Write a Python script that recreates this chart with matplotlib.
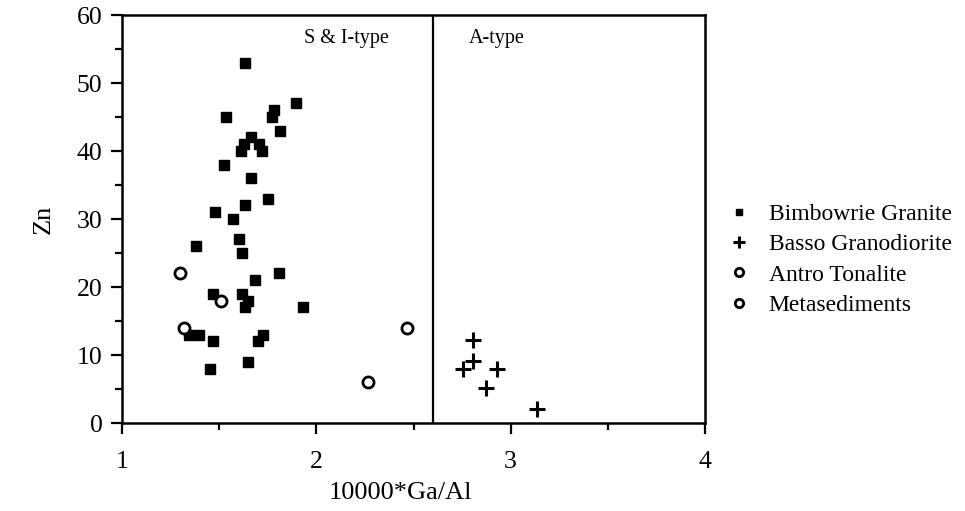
import matplotlib
matplotlib.use("Agg")
import matplotlib.pyplot as plt
from matplotlib.ticker import MultipleLocator

plt.rcParams['font.family'] = ['Liberation Serif', 'DejaVu Serif']

# Bimbowrie Granite (filled squares)
bim_x = [1.635, 1.897, 1.537, 1.784, 1.771, 1.815, 1.663, 1.626, 1.703, 1.612, 1.72,
         1.527, 1.665, 1.751, 1.631, 1.477, 1.571, 1.382, 1.604, 1.617, 1.81, 1.683,
         1.468, 1.619, 1.647, 1.631, 1.931, 1.343, 1.398, 1.468, 1.70, 1.726, 1.647, 1.454]
bim_y = [53, 47, 45, 46, 45, 43, 42, 41, 41, 40, 40,
         38, 36, 33, 32, 31, 30, 26, 27, 25, 22, 21,
         19, 19, 18, 17, 17, 13, 13, 12, 12, 13, 9, 8]

# Basso Granodiorite (plus)
bas_x = [2.804, 2.804, 2.753, 2.93, 2.873, 3.136]
bas_y = [12.2, 9.1, 7.9, 8.0, 5.2, 2.0]

# Antro Tonalite (open circles)
ant_x = [1.30, 1.509, 1.317]
ant_y = [22, 18, 14]

# Metasediments (open circles)
met_x = [2.467, 2.264]
met_y = [14, 6]

boundary_x = 2.6

fig = plt.figure(figsize=(9.65, 5.11), dpi=100)
ax = fig.add_axes([0.1264, 0.1722, 0.6042, 0.7984])

ax.plot(bim_x, bim_y, ls='none', marker='s', ms=6.5, color='black',
        label='Bimbowrie Granite')
ax.plot(bas_x, bas_y, ls='none', marker='+', ms=11, mew=2.2, color='black',
        label='Basso Granodiorite')
ax.plot(ant_x, ant_y, ls='none', marker='o', ms=8, mew=2.0, mfc='white', mec='black',
        label='Antro Tonalite')
ax.plot(met_x, met_y, ls='none', marker='o', ms=8, mew=2.0, mfc='white', mec='black',
        label='Metasediments')

ax.axvline(boundary_x, color='black', lw=1.6)

ax.set_xlim(1, 4)
ax.set_ylim(0, 60)
ax.xaxis.set_major_locator(MultipleLocator(1))
ax.xaxis.set_minor_locator(MultipleLocator(0.5))
ax.yaxis.set_major_locator(MultipleLocator(10))
ax.yaxis.set_minor_locator(MultipleLocator(5))
ax.tick_params(which='major', direction='out', length=8, width=1.6, labelsize=18.5)
ax.tick_params(axis='x', which='major', pad=12)
ax.tick_params(axis='y', which='major', pad=6)
ax.tick_params(which='minor', direction='out', length=5, width=1.6)
for s in ax.spines.values():
    s.set_linewidth(1.8)

ax.set_xlabel('10000*Ga/Al', fontsize=19)
ax.xaxis.set_label_coords(0.478, -0.145)
ax.set_ylabel('Zn', fontsize=19, labelpad=16)

ax.text(2.154, 56.6, 'S & I-type', fontsize=14.5, ha='center', va='center')
ax.text(2.926, 56.6, 'A-type', fontsize=14.5, ha='center', va='center')

leg = ax.legend(loc='center left', bbox_to_anchor=(0.998, 0.40), frameon=False,
                fontsize=17, markerscale=0.75, handletextpad=0.65, labelspacing=0.37,
                handlelength=1.2)

fig.savefig('out.png', dpi=100)
